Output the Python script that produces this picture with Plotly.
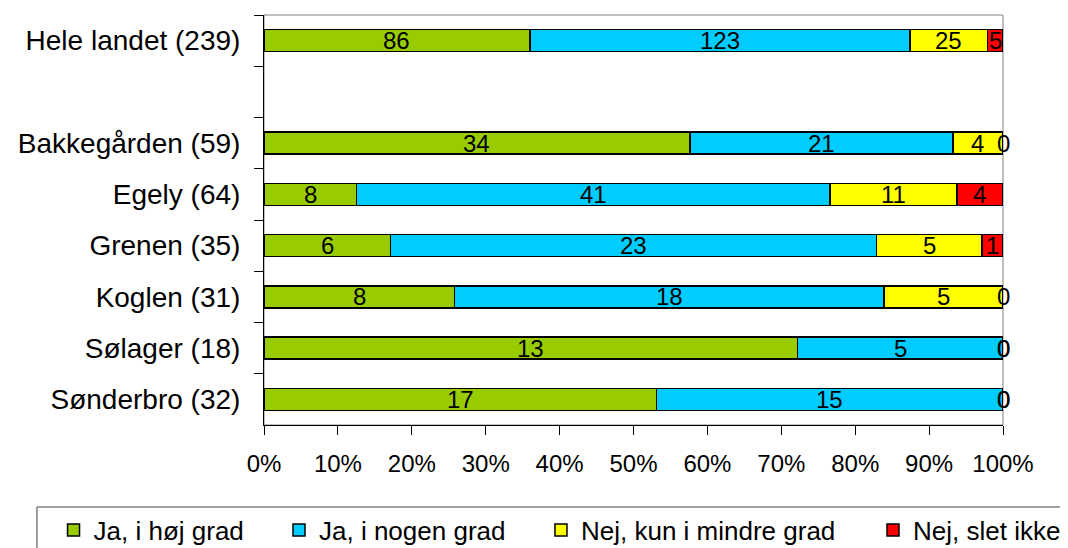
import plotly.graph_objects as go

categories = ["Hele landet (239)", "Bakkegården (59)", "Egely (64)", "Grenen (35)",
              "Koglen (31)", "Sølager (18)", "Sønderbro (32)"]
axis_order = ["Hele landet (239)", " ", "Bakkegården (59)", "Egely (64)", "Grenen (35)",
              "Koglen (31)", "Sølager (18)", "Sønderbro (32)"]

series_names = ["Ja, i høj grad", "Ja, i nogen grad", "Nej, kun i mindre grad", "Nej, slet ikke"]
ja_hoj = [86, 34, 8, 6, 8, 13, 17]
ja_nogen = [123, 21, 41, 23, 18, 5, 15]
nej_mindre = [25, 4, 11, 5, 5, 0, 0]
nej_slet = [5, 0, 4, 1, 0, 0, 0]
series_values = [ja_hoj, ja_nogen, nej_mindre, nej_slet]
colors = ["#99CC00", "#00CCFF", "#FFFF00", "#FF0000"]

x_ticks = [0, 10, 20, 30, 40, 50, 60, 70, 80, 90, 100]
x_tick_labels = ["0%", "10%", "20%", "30%", "40%", "50%", "60%", "70%", "80%", "90%", "100%"]

FONT = "Liberation Sans, Arial, sans-serif"

totals = [sum(v[i] for v in series_values) for i in range(len(categories))]

fig = go.Figure()
annotations = []
cum = [0.0] * len(categories)
legend_x = [-0.2848, 0.0203, 0.3748, 0.8241]
for k, (name, vals, col) in enumerate(zip(series_names, series_values, colors)):
    pct = [v / t * 100 for v, t in zip(vals, totals)]
    lg = "legend" if k == 0 else f"legend{k+1}"
    fig.add_trace(go.Bar(
        y=categories, x=pct, orientation="h", name=name,
        marker=dict(color=col, line=dict(color="black", width=1.5)),
        width=0.43, legend=lg, hoverinfo="skip",
    ))
    for i, (v, p) in enumerate(zip(vals, pct)):
        annotations.append(dict(
            x=cum[i] + p / 2, y=categories[i], xref="x", yref="y",
            text=str(v), showarrow=False,
            font=dict(family=FONT, size=24, color="black"),
        ))
        cum[i] += p

legends = {}
for k in range(4):
    key = "legend" if k == 0 else f"legend{k+1}"
    legends[key] = dict(
        x=legend_x[k], xanchor="left", y=-0.2561, yanchor="middle",
        orientation="h", font=dict(family=FONT, size=26, color="black"),
        bgcolor="rgba(0,0,0,0)", borderwidth=0,
    )

fig.update_layout(
    width=1068, height=548,
    margin=dict(l=256, r=73, t=7, b=131, autoexpand=False),
    paper_bgcolor="white", plot_bgcolor="white",
    barmode="stack",
    showlegend=True,
    font=dict(family=FONT, color="black"),
    annotations=annotations,
    shapes=[
        dict(type="rect", xref="paper", yref="paper", x0=0, x1=1, y0=0, y1=1,
             line=dict(color="#808080", width=1), layer="below"),
        dict(type="rect", xref="paper", yref="paper", x0=-0.3072, x1=1.1042,
             y0=-0.3293, y1=-0.2, line=dict(color="#404040", width=1), layer="below"),
    ],
    **legends,
)

fig.update_xaxes(
    range=[0, 100], tickmode="array", tickvals=x_ticks, ticktext=x_tick_labels,
    ticks="outside", ticklen=9, tickcolor="black", tickwidth=1,
    showline=True, linecolor="black", linewidth=1,
    showgrid=False, zeroline=False, automargin=False,
    tickfont=dict(family=FONT, size=24, color="black"),
    ticklabelstandoff=8,
)
fig.update_yaxes(
    type="category", categoryorder="array", categoryarray=axis_order,
    range=[7.5, -0.5], tickson="boundaries",
    ticks="outside", ticklen=9, tickcolor="black", tickwidth=1,
    showline=True, linecolor="black", linewidth=1,
    showgrid=False, zeroline=False, automargin=False,
    tickfont=dict(family=FONT, size=28, color="black"),
    ticklabelstandoff=17,
)

fig.write_html("out.html")
